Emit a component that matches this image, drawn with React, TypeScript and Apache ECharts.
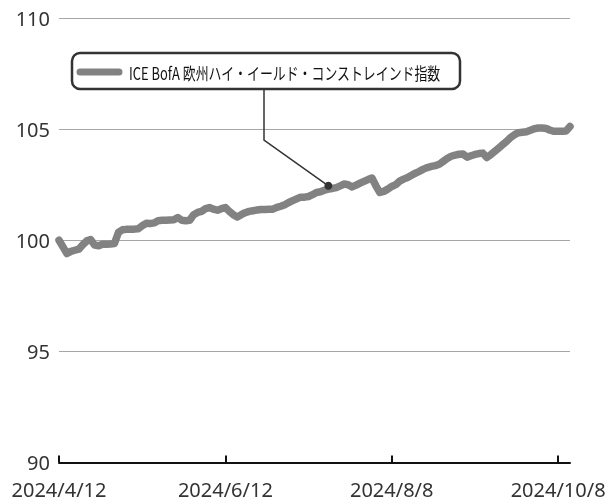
import React, { useEffect, useRef } from "react";
import * as echarts from "echarts";

const seriesName = "ICE BofA 欧州ハイ・イールド・コンストレインド指数";

const values = [
  100.0, 99.7, 99.4, 99.5, 99.55, 99.6, 99.8, 99.97, 100.03, 99.78,
  99.75, 99.82, 99.82, 99.83, 99.85, 100.35, 100.47, 100.49, 100.49, 100.5,
  100.52, 100.65, 100.76, 100.75, 100.78, 100.88, 100.9, 100.9, 100.91, 100.92,
  101.02, 100.9, 100.88, 100.9, 101.15, 101.25, 101.3, 101.42, 101.47, 101.4,
  101.35, 101.42, 101.47, 101.3, 101.15, 101.05, 101.15, 101.24, 101.3, 101.33,
  101.36, 101.38, 101.38, 101.39, 101.4, 101.48, 101.53, 101.6, 101.7, 101.78,
  101.86, 101.94, 101.94, 101.97, 102.05, 102.15, 102.18, 102.25, 102.3, 102.33,
  102.37, 102.45, 102.53, 102.5, 102.4, 102.48, 102.57, 102.65, 102.73, 102.8,
  102.45, 102.15, 102.2, 102.3, 102.42, 102.5, 102.66, 102.75, 102.82, 102.92,
  103.02, 103.1, 103.2, 103.27, 103.32, 103.36, 103.42, 103.55, 103.68, 103.78,
  103.83, 103.87, 103.88, 103.74, 103.8, 103.86, 103.9, 103.92, 103.72, 103.85,
  104.0, 104.15, 104.3, 104.45, 104.62, 104.75, 104.84, 104.86, 104.88, 104.95,
  105.02, 105.05, 105.05, 105.03, 104.95, 104.9, 104.9, 104.9, 104.92, 105.12,
];

const tickLabels = ["2024/4/12", "2024/6/12", "2024/8/8", "2024/10/8"];
const tickIndices = [0, 42, 84, 126];

const yMin = 90;
const yMax = 110;
const yStep = 5;

const calloutIndex = 68;
const calloutValue = 102.45;

export default function App() {
  const ref = useRef<HTMLDivElement>(null);

  useEffect(() => {
    if (!ref.current) return;
    const chart = echarts.init(ref.current, null, { renderer: "svg" });

    const categories = values.map((_, i) => {
      const k = tickIndices.indexOf(i);
      return k >= 0 ? tickLabels[k] : "p" + i;
    });
    const showIdx = (idx: number) => tickIndices.includes(idx);

    chart.setOption({
      animation: false,
      grid: { left: 59, right: 40, top: 18, bottom: 35, containLabel: false },
      xAxis: {
        type: "category",
        data: categories,
        boundaryGap: false,
        axisLine: { show: true, lineStyle: { color: "#111", width: 2 } },
        axisTick: {
          show: true,
          inside: true,
          length: 7,
          interval: showIdx,
          lineStyle: { color: "#111", width: 2 },
        },
        axisLabel: {
          interval: showIdx,
          formatter: (v: string) => (tickLabels.includes(v) ? v : ""),
          fontFamily: "Noto Sans",
          fontSize: 20,
          lineHeight: 17,
          color: "#333",
          margin: 18,
        },
        splitLine: { show: false },
      },
      yAxis: {
        type: "value",
        min: yMin,
        max: yMax,
        interval: yStep,
        axisLine: { show: false },
        axisTick: { show: false },
        axisLabel: {
          fontFamily: "Noto Sans",
          fontSize: 20,
          lineHeight: 18,
          color: "#333",
          margin: 9,
        },
        splitLine: { show: true, lineStyle: { color: "#a6a6a6", width: 1 } },
      },
      series: [
        {
          name: seriesName,
          type: "line",
          data: values,
          showSymbol: false,
          symbol: "none",
          lineStyle: { color: "#828282", width: 7.5, join: "round", cap: "round" },
          z: 2,
        },
      ],
    });

    const p = chart.convertToPixel({ seriesIndex: 0 }, [calloutIndex, calloutValue]) as number[];
    const boxX = 72;
    const boxY = 53;
    const boxW = 388;
    const boxH = 36;
    const elbowX = 264;
    const elbowY = 140;

    chart.setOption({
      graphic: [
        {
          type: "polyline",
          z: 10,
          shape: { points: [[elbowX, boxY + boxH], [elbowX, elbowY], [p[0], p[1]]] },
          style: { stroke: "#333", lineWidth: 1.5, fill: null },
        },
        {
          type: "circle",
          z: 11,
          shape: { cx: p[0], cy: p[1], r: 4 },
          style: { fill: "#333" },
        },
        {
          type: "group",
          x: boxX,
          y: boxY,
          z: 12,
          children: [
            {
              type: "rect",
              shape: { x: 0, y: 0, width: boxW, height: boxH, r: 8 },
              style: { fill: "#fff", stroke: "#333", lineWidth: 2.5 },
            },
            {
              type: "line",
              shape: { x1: 8, y1: 19, x2: 47, y2: 19 },
              style: { stroke: "#828282", lineWidth: 7, lineCap: "round" },
            },
            {
              type: "text",
              x: 57,
              y: 19,
              scaleX: 0.76,
              style: {
                text: seriesName,
                fontFamily: "Noto Sans CJK JP",
                fontSize: 17,
                fill: "#111",
                verticalAlign: "middle",
                align: "left",
              },
            },
          ],
        },
      ],
    });

    return () => {
      chart.dispose();
    };
  }, []);

  return (
    <div
      ref={ref}
      style={{ position: "fixed", left: 0, top: 0, width: 610, height: 499 }}
    />
  );
}
